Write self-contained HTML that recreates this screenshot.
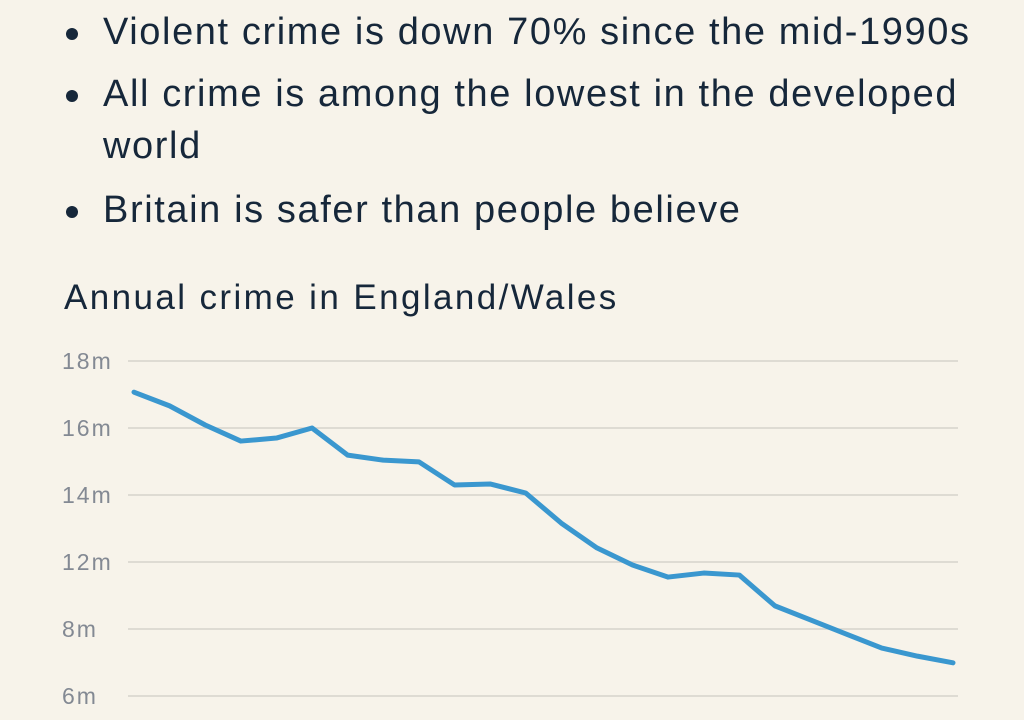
<!DOCTYPE html>
<html><head><meta charset="utf-8">
<style>
html,body{margin:0;padding:0;width:1024px;height:720px;overflow:hidden;background:#f7f3ea;}
body{font-family:"Liberation Sans",sans-serif;color:#16273a;position:relative;}
.b{position:absolute;left:103px;font-size:38px;line-height:52px;letter-spacing:1.6px;}
.dot{position:absolute;left:66px;width:12px;height:12px;border-radius:50%;background:#16273a;}
#title{position:absolute;left:64px;top:278px;font-size:35px;letter-spacing:2.4px;}
svg{position:absolute;left:0;top:0;}
</style></head><body>
<div class="dot" style="top:28px"></div>
<div class="b" style="top:6px">Violent crime is down 70% since the mid-1990s</div>
<div class="dot" style="top:90px"></div>
<div class="b" style="top:68px">All crime is among the lowest in the developed<br>world</div>
<div class="dot" style="top:206px"></div>
<div class="b" style="top:184px">Britain is safer than people believe</div>
<div id="title">Annual crime in England/Wales</div>
<svg id="chart" width="1024" height="720"></svg>
<script>
const tickValues=[18,16,14,12,10,8];
const tickLabels=["18m","16m","14m","12m","8m","6m"];
const crimeValues=[17.07,16.66,16.09,15.61,15.7,16.0,15.19,15.04,14.99,14.3,14.33,14.06,13.16,12.42,11.91,11.55,11.67,11.61,10.69,10.27,9.85,9.43,9.19,8.99];
const ns="http://www.w3.org/2000/svg";
const svg=document.getElementById('chart');
const y=v=>361+(18-v)*33.5;
const x=i=>134+i*(953-134)/(crimeValues.length-1);
tickValues.forEach((t,i)=>{
  const l=document.createElementNS(ns,'line');
  
  
  l.setAttribute('x1',128);l.setAttribute('x2',958);
  l.setAttribute('y1',y(t));l.setAttribute('y2',y(t));
  l.setAttribute('stroke','#d6d3cb');l.setAttribute('stroke-width','1.5');
  svg.appendChild(l);
  const tx=document.createElementNS(ns,'text');
  
  
  tx.setAttribute('x',62);tx.setAttribute('y',y(t)+8);
  tx.setAttribute('font-size','23');tx.setAttribute('fill','#838993');
  tx.setAttribute('letter-spacing','2');
  tx.setAttribute('font-family','Liberation Sans, sans-serif');
  tx.textContent=tickLabels[i];
  svg.appendChild(tx);
});
const p=document.createElementNS(ns,'polyline');


p.setAttribute('points',crimeValues.map((v,i)=>x(i)+','+y(v)).join(' '));
p.setAttribute('fill','none');p.setAttribute('stroke','#3a97cf');
p.setAttribute('stroke-width','5');p.setAttribute('stroke-linejoin','round');p.setAttribute('stroke-linecap','round');
svg.appendChild(p);
</script>
</body></html>
